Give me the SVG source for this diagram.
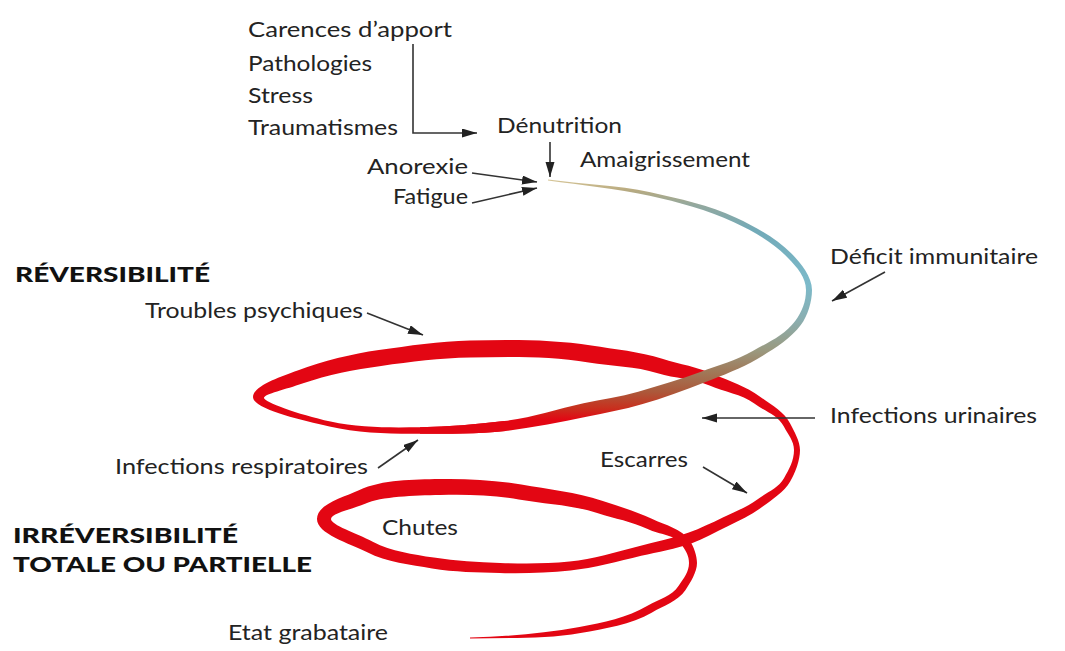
<svg xmlns="http://www.w3.org/2000/svg" width="1065" height="651" viewBox="0 0 1065 651">
<defs>
<style>
.lbl{font-family:Lato,'Open Sans','Liberation Sans',sans-serif;font-size:21px;fill:#232323;}
.hd{font-family:Lato,'Open Sans','Liberation Sans',sans-serif;font-size:20px;font-weight:900;fill:#111;}
.arr{fill:none;stroke:#333;stroke-width:1.6;marker-end:url(#ah);}
.red{fill:#e30613;}
</style>
<marker id="ah" markerUnits="userSpaceOnUse" markerWidth="16" markerHeight="10" refX="15" refY="4.5" orient="auto">
<path d="M0,0 L15,4.5 L0,9 Z" fill="#222"/>
</marker>
<linearGradient id="gr" gradientUnits="userSpaceOnUse" x1="0" y1="178" x2="0" y2="432">
<stop offset="0" stop-color="#dccb9c"/>
<stop offset="0.047" stop-color="#b8aa80"/>
<stop offset="0.106" stop-color="#93a89e"/>
<stop offset="0.205" stop-color="#72aab8"/>
<stop offset="0.421" stop-color="#7cbaca"/>
<stop offset="0.559" stop-color="#8aaeb0"/>
<stop offset="0.677" stop-color="#9a9a80"/>
<stop offset="0.764" stop-color="#a07858"/>
<stop offset="0.843" stop-color="#ac583a"/>
<stop offset="0.906" stop-color="#c8301e"/>
<stop offset="0.953" stop-color="#e30613"/>
<stop offset="1" stop-color="#e30613"/>
</linearGradient>
</defs>
<rect width="1065" height="651" fill="#ffffff"/>
<g id="spiral">
<path class="red" d="M505.6,430.97 C477.4,434.38 448.43,433.47 420.03,433.75 C390.03,434.05 358.74,432.92 329.46,426.44 C300.18,419.96 253,409 253,397 C253,386 279.76,376.88 297.62,370.42 C323.38,361.1 351.75,353.92 378.88,350.08 C408.68,345.87 439.73,341.1 469.83,340.5 C509.83,339.7 551.88,339.21 591.36,345.61 C614.75,349.4 639.64,351.74 662.25,358.85 C679.42,364.25 698.04,367.15 714.46,374.53 C729.42,381.25 746.58,386.56 759.7,396.4 C770.1,404.2 784.28,411.82 790.13,423.43 C794.18,431.47 800,441 800,450 C800,460.5 795.28,472.66 790.03,481.75 C784.13,491.97 772.14,499.52 762.7,506.6 C752.06,514.58 739.15,520.7 727.18,526.5 C715.66,532.08 703.9,538.82 691.87,543.17 C675.7,549.02 657.88,551.72 641.2,555.85 C618.02,561.59 594.23,568.09 570.45,570.48 C547.27,572.81 523.15,573.7 499.85,573 C477.45,572.33 454.23,572.01 432.12,568.43 C410.7,564.96 386.57,562.24 367.26,552.34 C348.57,542.76 317,534 317,519 C317,504 343.42,497.24 358.89,490.18 C382.73,479.31 413.64,479.52 439.84,479 C466.54,478.47 494.98,480.07 521.28,484.61 C547.97,489.22 576.27,492.43 602.02,500.83 C618.74,506.29 636.53,511.48 652.37,519.05 C664.61,524.9 682.28,529.17 689.76,540.53 C693.67,546.46 697,555.9 697,563 C697,572.1 690.35,582.6 685.34,590.2 C678.3,600.89 663.05,605.91 652.04,612.44 C631.06,624.88 604.55,628.56 580.54,632.95 C544.33,639.57 506.82,637.4 470.02,638.5 L469.99,637.5 C506.79,636.4 543.25,633.67 579.46,627.05 C603.47,622.66 626.98,618 647.96,605.56 C658.97,599.03 671.62,596.49 678.66,585.8 C683.67,578.2 689,572.1 689,563 C689,555.9 686.15,551.41 682.24,545.48 C674.76,534.12 659.88,534.8 647.64,528.95 C631.8,521.38 614.71,518.64 597.99,513.18 C572.24,504.78 545.42,504 518.73,499.39 C492.43,494.85 466.86,494.47 440.16,495 C413.96,495.52 381.49,496.36 365.11,503.83 C354.19,508.81 331,513 331,519 C331,525 355.83,533 372.74,541.66 C392.05,551.56 412.46,554.1 433.88,557.57 C455.99,561.15 477.75,562.33 500.15,563 C523.45,563.7 546.37,563.85 569.55,561.52 C593.33,559.13 615.62,551.89 638.8,546.15 C655.48,542.02 671.96,538.68 688.13,532.83 C700.16,528.48 711.3,523.08 722.82,517.5 C734.79,511.7 746.66,507.38 757.3,499.4 C766.74,492.32 778.07,488.47 783.97,478.25 C789.22,469.16 794,460.5 794,450 C794,441 787.92,434.62 783.87,426.58 C778.02,414.97 764.7,411.4 754.3,403.6 C741.18,393.76 724.5,392.19 709.54,385.47 C693.12,378.09 674.92,378.56 657.75,373.16 C635.14,366.05 612.03,366.18 588.64,362.39 C549.16,355.99 510.17,356.7 470.17,357.5 C440.07,358.1 410.92,361.71 381.12,365.92 C353.99,369.76 328.14,374.26 302.38,383.58 C286.4,389.36 264,394 264,398 C264,402 297.36,414.22 330.54,421.56 C359.82,428.04 389.97,427.55 419.97,427.25 C448.37,426.97 476.2,424.45 504.4,421.04 Z"/>
<path fill="url(#gr)" d="M548.07,179.5 C582.03,184.3 616.9,184.92 650.38,192.29 C679.27,198.65 709.24,205.21 736.06,217.73 C755.9,226.99 776.76,238.34 791.98,254.09 C801.02,263.44 812,277 812,290 C812,301.6 807.76,315.82 800.8,325.1 C790.06,339.42 772.75,349.95 757.25,358.9 C740.97,368.3 722.53,375.41 704.97,382.14 C684.33,390.05 663.04,398.05 641.82,404.24 C623.77,409.5 604.86,412.9 586.47,416.85 C559.87,422.56 532.61,427.71 505.6,430.97 C477.4,434.38 448.43,433.47 420.03,433.75 L419.97,427.25 C448.37,426.97 476.2,424.45 504.4,421.04 C531.41,417.78 556.93,408.86 583.53,403.15 C601.92,399.2 620.13,397.02 638.18,391.76 C659.4,385.57 680.39,379.77 701.03,371.86 C718.59,365.13 736.47,360.5 752.75,351.1 C768.25,342.15 784.46,335.22 795.2,320.9 C802.16,311.62 806,301.6 806,290 C806,277 797.06,267.26 788.02,257.91 C772.8,242.16 753.78,231.53 733.94,222.27 C707.12,209.75 678.51,202.07 649.62,195.71 C616.14,188.34 581.89,185.3 547.93,180.5 Z"/>
</g>
<g id="connectors">
<path class="arr" d="M413,44 V133 H477"/>
<path class="arr" d="M550,142 V177"/>
<path class="arr" d="M472,173 L537,182"/>
<path class="arr" d="M472,203 L537,188"/>
<path class="arr" d="M885,272 L832,301"/>
<path class="arr" d="M367,313 L423,335"/>
<path class="arr" d="M378,468 L418,440"/>
<path class="arr" d="M815,418 L702,418"/>
<path class="arr" d="M703,467 L747,493"/>
</g>
<g id="n-carences"><text class="lbl" x="248" y="37" textLength="204" lengthAdjust="spacingAndGlyphs">Carences d’apport</text></g>
<g id="n-pathologies"><text class="lbl" x="248" y="71" textLength="124" lengthAdjust="spacingAndGlyphs">Pathologies</text></g>
<g id="n-stress"><text class="lbl" x="248" y="103" textLength="65" lengthAdjust="spacingAndGlyphs">Stress</text></g>
<g id="n-traumatismes"><text class="lbl" x="248" y="135" textLength="150" lengthAdjust="spacingAndGlyphs">Traumatismes</text></g>
<g id="n-denutrition"><text class="lbl" x="497" y="133" textLength="125" lengthAdjust="spacingAndGlyphs">Dénutrition</text></g>
<g id="n-amaigrissement"><text class="lbl" x="580" y="167" textLength="170" lengthAdjust="spacingAndGlyphs">Amaigrissement</text></g>
<g id="n-anorexie"><text class="lbl" x="367" y="174" textLength="101" lengthAdjust="spacingAndGlyphs">Anorexie</text></g>
<g id="n-fatigue"><text class="lbl" x="393" y="204" textLength="75" lengthAdjust="spacingAndGlyphs">Fatigue</text></g>
<g id="n-deficit"><text class="lbl" x="830" y="264" textLength="208" lengthAdjust="spacingAndGlyphs">Déficit immunitaire</text></g>
<g id="n-reversibilite"><text class="hd" x="15" y="282" textLength="195" lengthAdjust="spacingAndGlyphs">RÉVERSIBILITÉ</text></g>
<g id="n-troubles"><text class="lbl" x="145" y="318" textLength="218" lengthAdjust="spacingAndGlyphs">Troubles psychiques</text></g>
<g id="n-urinaires"><text class="lbl" x="830" y="423" textLength="207" lengthAdjust="spacingAndGlyphs">Infections urinaires</text></g>
<g id="n-respiratoires"><text class="lbl" x="115" y="474" textLength="253" lengthAdjust="spacingAndGlyphs">Infections respiratoires</text></g>
<g id="n-escarres"><text class="lbl" x="600" y="467" textLength="88" lengthAdjust="spacingAndGlyphs">Escarres</text></g>
<g id="n-chutes"><text class="lbl" x="382" y="535" textLength="76" lengthAdjust="spacingAndGlyphs">Chutes</text></g>
<g id="n-irreversibilite"><text class="hd" x="13" y="543" textLength="225" lengthAdjust="spacingAndGlyphs">IRRÉVERSIBILITÉ</text><text class="hd" x="13" y="572" textLength="299" lengthAdjust="spacingAndGlyphs">TOTALE OU PARTIELLE</text></g>
<g id="n-grabataire"><text class="lbl" x="228" y="640" textLength="160" lengthAdjust="spacingAndGlyphs">Etat grabataire</text></g>
</svg>
